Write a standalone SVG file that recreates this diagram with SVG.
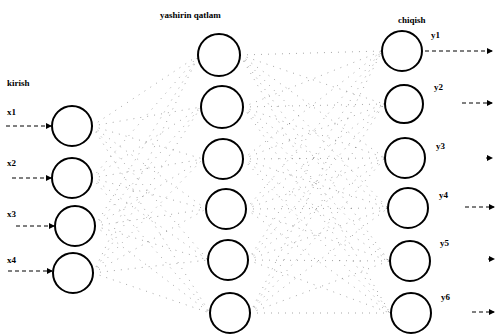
<svg xmlns="http://www.w3.org/2000/svg" width="496" height="334" viewBox="0 0 496 334">
<style>
.n{fill:none;stroke:#000;stroke-width:2}
.t{font-family:"Liberation Serif",serif;font-size:9px;font-weight:bold;fill:#000}
.c{stroke:#000;stroke-width:1;stroke-opacity:0.35;stroke-dasharray:1 6;fill:none}
.io{stroke:#000;stroke-width:1;stroke-dasharray:4 3;fill:none}
</style>
<defs>
<marker id="ah" markerWidth="6" markerHeight="6" refX="5" refY="3" orient="auto" markerUnits="userSpaceOnUse"><path d="M0,0 L6,3 L0,6 Z" fill="#000"/></marker>
</defs>
<rect width="496" height="334" fill="#fff"/>
<g id="connectors">
<g id="in-hidden">
<path class="c" d="M92,126L199,55M92,126L201,107M92,126L203,159M92,126L206,209M92,126L208,260M92,126L210,313"/>
<path class="c" d="M92,178L199,55M92,178L201,107M92,178L203,159M92,178L206,209M92,178L208,260M92,178L210,313"/>
<path class="c" d="M95,226L199,55M95,226L201,107M95,226L203,159M95,226L206,209M95,226L208,260M95,226L210,313"/>
<path class="c" d="M93,273L199,55M93,273L201,107M93,273L203,159M93,273L206,209M93,273L208,260M93,273L210,313"/>
</g>
<g id="hidden-out">
<path class="c" d="M240,55L382,51M240,55L384,104M240,55L385,158M240,55L388,208M240,55L389,261M240,55L390,313"/>
<path class="c" d="M243,107L382,51M243,107L384,104M243,107L385,158M243,107L388,208M243,107L389,261M243,107L390,313"/>
<path class="c" d="M243,159L382,51M243,159L384,104M243,159L385,158M243,159L388,208M243,159L389,261M243,159L390,313"/>
<path class="c" d="M246,209L382,51M246,209L384,104M246,209L385,158M246,209L388,208M246,209L389,261M246,209L390,313"/>
<path class="c" d="M248,260L382,51M248,260L384,104M248,260L385,158M248,260L388,208M248,260L389,261M248,260L390,313"/>
<path class="c" d="M250,313L382,51M250,313L384,104M250,313L385,158M250,313L388,208M250,313L389,261M250,313L390,313"/>
</g>
<g id="inputs">
<line class="io" x1="6" y1="126" x2="51" y2="126" marker-end="url(#ah)"/>
<line class="io" x1="12" y1="178" x2="51" y2="178" marker-end="url(#ah)"/>
<line class="io" x1="16" y1="226" x2="54" y2="226" marker-end="url(#ah)"/>
<line class="io" x1="8" y1="271" x2="52" y2="271" marker-end="url(#ah)"/>
</g>
<g id="outputs">
<line class="io" x1="425" y1="51" x2="492" y2="51" marker-end="url(#ah)"/>
<line class="io" x1="462" y1="103" x2="492" y2="103" marker-end="url(#ah)"/>
<line class="io" x1="486" y1="158" x2="492" y2="158" marker-end="url(#ah)"/>
<line class="io" x1="465" y1="207" x2="494" y2="207" marker-end="url(#ah)"/>
<line class="io" x1="488" y1="259" x2="494" y2="259" marker-end="url(#ah)"/>
<line class="io" x1="472" y1="312" x2="494" y2="312" marker-end="url(#ah)"/>
</g>
</g>
<text class="t" x="7" y="86">kirish</text>
<text class="t" x="160" y="18">yashirin qatlam</text>
<text class="t" x="398" y="23">chiqish</text>
<g id="x1"><circle class="n" cx="72" cy="126" r="20"/><text class="t" x="7" y="115">x1</text></g>
<g id="x2"><circle class="n" cx="72" cy="178" r="20"/><text class="t" x="7" y="166">x2</text></g>
<g id="x3"><circle class="n" cx="75" cy="226" r="20"/><text class="t" x="7" y="217">x3</text></g>
<g id="x4"><circle class="n" cx="73" cy="273" r="20"/><text class="t" x="7" y="263">x4</text></g>
<g id="h1"><circle class="n" cx="219" cy="55" r="21"/></g>
<g id="h2"><circle class="n" cx="222" cy="107" r="21"/></g>
<g id="h3"><circle class="n" cx="223" cy="159" r="20"/></g>
<g id="h4"><circle class="n" cx="226" cy="209" r="20"/></g>
<g id="h5"><circle class="n" cx="228" cy="260" r="20"/></g>
<g id="h6"><circle class="n" cx="230" cy="313" r="20"/></g>
<g id="y1"><circle class="n" cx="402" cy="51" r="20"/><text class="t" x="431" y="38">y1</text></g>
<g id="y2"><circle class="n" cx="404" cy="104" r="19"/><text class="t" x="434" y="90">y2</text></g>
<g id="y3"><circle class="n" cx="405" cy="158" r="20"/><text class="t" x="436" y="149">y3</text></g>
<g id="y4"><circle class="n" cx="408" cy="208" r="20"/><text class="t" x="439" y="198">y4</text></g>
<g id="y5"><circle class="n" cx="410" cy="261" r="20"/><text class="t" x="440" y="246">y5</text></g>
<g id="y6"><circle class="n" cx="411" cy="313" r="20"/><text class="t" x="441" y="300">y6</text></g>
</svg>
